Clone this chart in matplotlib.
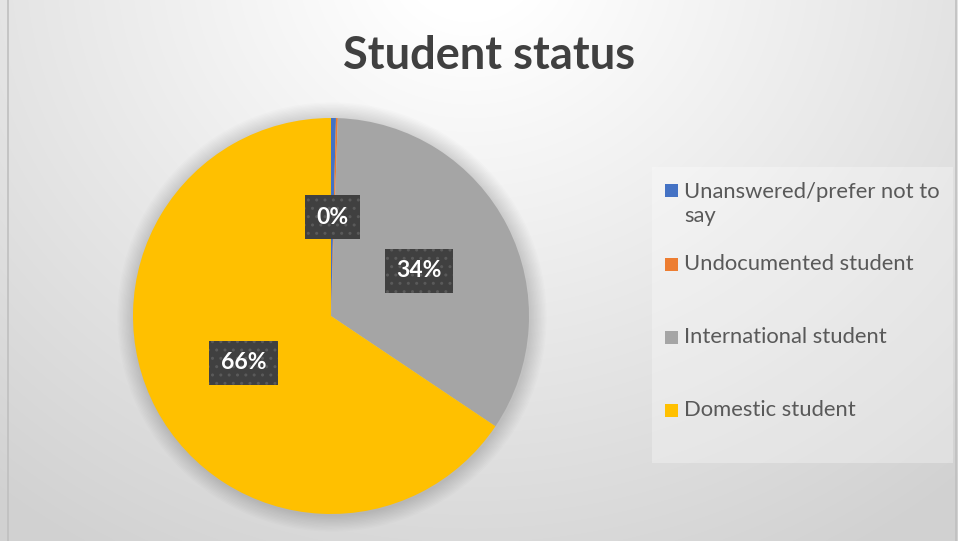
import numpy as np
import matplotlib.pyplot as plt
from matplotlib.patches import Rectangle, Circle

categories = ["Unanswered/prefer not to\nsay", "Undocumented student",
              "International student", "Domestic student"]
shares = [0.4, 0.15, 33.85, 65.6]
colors = ["#4472c4", "#ed7d31", "#a5a5a5", "#ffc000"]

W, H = 958, 541
fig = plt.figure(figsize=(W / 100, H / 100), dpi=100)

# background: soft radial gradient, white at top centre
bg = fig.add_axes([0, 0, 1, 1])
yy, xx = np.mgrid[0:H, 0:W]
d = np.hypot((xx - 470) / 1.1, yy + 40) / 620
shade = 1.0 - 0.16 * np.clip(d - 0.1, 0, 1) / 0.9
bg.imshow(np.dstack([shade] * 3), extent=[0, W, H, 0], aspect="auto")
bg.set_xlim(0, W)
bg.set_ylim(H, 0)
bg.axis("off")
bg.add_patch(Rectangle((8, -2), W - 10, H + 4, fill=False, ec="#bfbfbf", lw=1.2))

fig.text(489 / W, 1 - 56 / H, "Student status", ha="center", va="center",
         fontsize=32.5, fontweight="bold", color="#404040", family="Lato")

# pie
cx, cy, r = 331, 316, 198
ax = fig.add_axes([(cx - r) / W, (H - cy - r) / H, 2 * r / W, 2 * r / H])

# soft shadow around pie
for k in range(12):
    ax.add_patch(Circle((0.005, -0.005), 1.0 + 0.007 * (k + 1), color="k", alpha=0.011,
                        lw=0, clip_on=False))

shown = ["0%", "", "34%", "66%"]
idx = iter(range(len(shares)))
wedges, texts, autos = ax.pie(shares, colors=colors, startangle=90, counterclock=False,
                              radius=1, pctdistance=0.5,
                              autopct=lambda p: shown[next(idx)],
                              wedgeprops=dict(linewidth=0))
ax.set_xlim(-1, 1)
ax.set_ylim(-1, 1)
ax.axis("off")
for t in autos:
    if t.get_text():
        t.set_color("white")
        t.set_fontsize(16.5)
        t.set_fontweight("bold")
        t.set_family("Lato")
        t.set_bbox(dict(boxstyle="square,pad=0.5", fc="#404040", ec="#5a5a5a",
                        lw=0, hatch=".."))

# legend
bg.add_patch(Rectangle((652, 167), 301, 296, fc="white", alpha=0.3, lw=0))
ys = [204, 264, 337, 410]
for name, c, y in zip(categories, colors, ys):
    bg.add_patch(Rectangle((665, y - (14 if "\n" in name else 0) - 6), 13, 13, fc=c, lw=0))
    bg.text(684, y, name, va="center", ha="left", fontsize=15.8, color="#595959",
            family="Lato", linespacing=1.25)

fig.savefig("out.png", dpi=100)
